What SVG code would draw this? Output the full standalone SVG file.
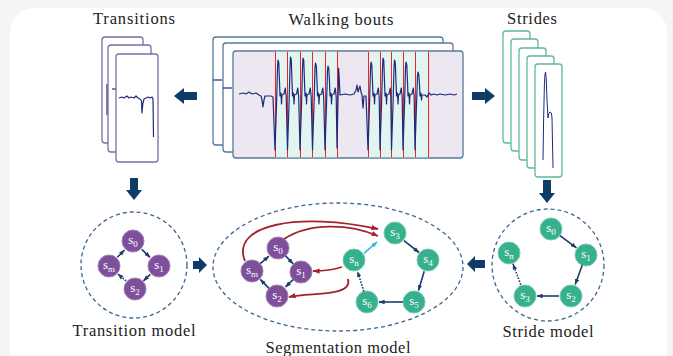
<svg xmlns="http://www.w3.org/2000/svg" width="673" height="356" viewBox="0 0 673 356">
<defs>
<style>
text{font-family:'Liberation Serif','Times New Roman',serif}
.title{font-size:16.5px;fill:#222;text-anchor:middle}
.lbl{font-size:13px;fill:#fff;text-anchor:middle}
.sub{font-size:9px}
.pn{fill:#7e4f9b;stroke:#a27fb9;stroke-width:1}
.gn{fill:#37b08d;stroke:#79cdb0;stroke-width:1}
.dash{fill:none;stroke:#3a6690;stroke-width:1.3;stroke-dasharray:4 3}
.nav{fill:none;stroke:#1b3e6c;stroke-width:1.6;marker-end:url(#ah)}
.dot{stroke-dasharray:1.6 1.4}
.red{fill:none;stroke:#a3222f;stroke-width:1.8;marker-end:url(#ahr)}
.blk{fill:#0f3b67}
.wpan{fill:#fff;stroke:#56799b;stroke-width:1.3}
.tpan{fill:#fff;stroke:#7d6aa9;stroke-width:1.3}
.span{fill:#fff;stroke:#5cb99a;stroke-width:1.3}
.sig{fill:none;stroke:#1e2b7c;stroke-width:1.2;stroke-linejoin:round}
.rl{stroke:#f0252c;stroke-width:1}
</style>
<marker id="ah" viewBox="0 0 8 6" refX="7.5" refY="3" markerWidth="6" markerHeight="5" markerUnits="userSpaceOnUse" orient="auto"><path d="M0,0 L8,3 L0,6 z" fill="#1b3e6c"/></marker>
<marker id="ahr" viewBox="0 0 8 6" refX="7.5" refY="3" markerWidth="7" markerHeight="6" markerUnits="userSpaceOnUse" orient="auto"><path d="M0,0 L8,3 L0,6 z" fill="#a3222f"/></marker>
<marker id="ahb" viewBox="0 0 8 6" refX="7.5" refY="3" markerWidth="6" markerHeight="5" markerUnits="userSpaceOnUse" orient="auto"><path d="M0,0 L8,3 L0,6 z" fill="#2bb5e8"/></marker>
</defs>
<rect x="0" y="0" width="673" height="356" fill="#f5f5f5"/>
<rect x="10" y="8" width="657" height="370" rx="24" fill="#fff"/>

<g id="transitions">
<text class="title" x="134" y="24" textLength="82" lengthAdjust="spacing">Transitions</text>
<rect class="tpan" x="102" y="37" width="41" height="106" rx="3"/>
<path class="sig" d="M107,84 L107,115"/>
<rect class="tpan" x="108" y="45" width="43" height="107" rx="3"/>
<path class="sig" d="M112,89 L116,89"/>
<rect class="tpan" x="116" y="54" width="42" height="108" rx="3"/>
<path class="sig" d="M119,98 L122,97 L124,98 L127,96 L129,98 L131,97 L134,98 L136,96 L138,98 L140,99 L141.5,101 L142,113 L142.8,104 L144,99 L146,98 L148,97 L150,98 L152,97 L153,99 L153.5,137"/>
</g>

<g id="walking-bouts">
<text class="title" x="341" y="25" textLength="105" lengthAdjust="spacing">Walking bouts</text>
<rect class="wpan" x="213" y="37" width="230" height="108" rx="3"/>
<path class="sig" d="M213,80 L222,80"/>
<rect class="wpan" x="223" y="43" width="230" height="109" rx="3"/>
<path class="sig" d="M223,88 L232,88"/>
<rect class="wpan" x="233" y="51" width="230" height="107" rx="3" style="fill:#ece7f1"/>
<rect x="275" y="51.7" width="62" height="105.6" fill="#e2f4ef"/>
<rect x="368" y="51.7" width="60" height="105.6" fill="#e2f4ef"/>
<g>
<line class="rl" x1="275.5" y1="51.7" x2="275.5" y2="157.3"/>
<line class="rl" x1="287.5" y1="51.7" x2="287.5" y2="157.3"/>
<line class="rl" x1="300.5" y1="51.7" x2="300.5" y2="157.3"/>
<line class="rl" x1="312.5" y1="51.7" x2="312.5" y2="157.3"/>
<line class="rl" x1="325.5" y1="51.7" x2="325.5" y2="157.3"/>
<line class="rl" x1="337.5" y1="51.7" x2="337.5" y2="157.3"/>
<line class="rl" x1="368.5" y1="51.7" x2="368.5" y2="157.3"/>
<line class="rl" x1="380.5" y1="51.7" x2="380.5" y2="157.3"/>
<line class="rl" x1="391.5" y1="51.7" x2="391.5" y2="157.3"/>
<line class="rl" x1="403.5" y1="51.7" x2="403.5" y2="157.3"/>
<line class="rl" x1="415.5" y1="51.7" x2="415.5" y2="157.3"/>
<line class="rl" x1="428.5" y1="51.7" x2="428.5" y2="157.3"/>
</g>
<path class="sig" d="M239,94 L243,93 L246,94 L249,92 L252,94 L256,93 L259,95 L261,96 L262,100 L263,107 L264,100 L265,96 L268,96 L271,96 L273,97
L275,150 L276.5,105 L277.5,68 L278,60 L278.8,63 L279.5,82 L280,96 L281,93 L281.5,104 L282,95 L284,94 L285.3,88 L286.2,97
L287.5,150 L289,105 L290,68 L290.5,57 L291.3,60 L292,82 L292.5,96 L293.5,93 L294,104 L294.5,95 L296.5,94 L297.8,88 L298.7,97
L300,150 L301.5,105 L302.5,68 L303,58 L303.8,61 L304.5,82 L305,96 L306,93 L306.5,104 L307,95 L309,94 L310.3,88 L311.2,97
L312.5,150 L314,105 L315,68 L315.5,63 L316.3,66 L317,82 L317.5,96 L318.5,93 L319,104 L319.5,95 L321.5,94 L322.8,88 L323.7,97
L325,150 L326.5,105 L327.5,70 L328,66 L328.8,69 L329.5,82 L330,96 L331,93 L331.5,104 L332,95 L334,94 L335.3,88 L336.2,97
L337,148 L338,100 L338.6,68 L339.3,80 L340,95 L345,94 L350,95 L354,94 L356,90 L357,85 L358,92 L360,86 L361,92 L362,95 L363,108 L364,96 L366,96
L368,150 L369.5,105 L370.5,68 L371,62 L371.8,65 L372.5,82 L373,96 L374,93 L374.5,104 L375,95 L377,94 L378.3,88 L379.2,97
L380,150 L381.5,105 L382.5,68 L383,58 L383.8,61 L384.5,82 L385,96 L386,93 L386.5,104 L387,95 L389,94 L390.2,88 L390.8,97
L391.5,150 L393,105 L394,68 L394.5,60 L395.3,63 L396,82 L396.5,96 L397.5,93 L398,104 L398.5,95 L400,94 L401.3,88 L402.2,97
L403,150 L404.5,105 L405.5,68 L406,62 L406.8,65 L407.5,82 L408,96 L409,93 L409.5,104 L410,95 L412,94 L413.3,88 L414.2,97
L415,150 L416.5,105 L417.5,76 L418,72 L418.8,75 L419.5,85 L420,96 L421,93 L421.5,100 L422,95 L425,95 L427,97 L429,93 L431,95 L434,94 L437,95 L440,94 L445,95 L450,94 L454,95 L457,94"/>
</g>

<g id="strides">
<text class="title" x="532" y="24" textLength="50" lengthAdjust="spacing">Strides</text>
<rect class="span" x="503" y="31" width="27" height="112" rx="3"/>
<path class="sig" d="M512,105 L512,135" style="stroke-width:0.9"/>
<rect class="span" x="511" y="39" width="27" height="112" rx="3"/>
<path class="sig" d="M520,110 L520,142" style="stroke-width:0.9"/>
<rect class="span" x="519" y="48" width="27" height="112" rx="3"/>
<path class="sig" d="M528,112 L528,148" style="stroke-width:0.9"/>
<rect class="span" x="527" y="56" width="27" height="112" rx="3"/>
<path class="sig" d="M536,115 L536,155" style="stroke-width:0.9"/>
<rect class="span" x="535" y="64" width="27" height="113" rx="3"/>
<path class="sig" d="M543,160 L543.6,120 L544.4,85 L545,74 L545.6,72 L546.3,80 L547,100 L548,118 L548.6,114 L550,112 L551.4,113 L552,118 L553,168" style="stroke-width:1"/>
</g>

<g id="block-arrows">
<path class="blk" d="M174,96 L184,88 L184,92 L197,92 L197,100 L184,100 L184,104 z"/>
<path class="blk" d="M495,96 L485,88 L485,92 L472,92 L472,100 L485,100 L485,104 z"/>
<path class="blk" d="M134,200 L126,190 L130,190 L130,178 L138,178 L138,190 L142,190 z"/>
<path class="blk" d="M547,203 L539,193 L543,193 L543,180 L551,180 L551,193 L555,193 z"/>
<path class="blk" d="M207,265 L199,257 L199,261 L193,261 L193,269 L199,269 L199,273 z"/>
<path class="blk" d="M467,264 L475,256 L475,260 L485,260 L485,268 L475,268 L475,272 z"/>
</g>

<g id="transition-model">
<ellipse class="dash" cx="134" cy="265" rx="53" ry="53"/>
<g id="t-s0"><circle class="pn" cx="133" cy="241" r="11"/><text class="lbl" x="133" y="244">s<tspan class="sub" dy="3">0</tspan></text></g>
<g id="t-s1"><circle class="pn" cx="159" cy="266" r="11"/><text class="lbl" x="159" y="269">s<tspan class="sub" dy="3">1</tspan></text></g>
<g id="t-s2"><circle class="pn" cx="135" cy="289" r="11"/><text class="lbl" x="135" y="292">s<tspan class="sub" dy="3">2</tspan></text></g>
<g id="t-sm"><circle class="pn" cx="109" cy="266" r="11"/><text class="lbl" x="109" y="269">s<tspan class="sub" dy="3">m</tspan></text></g>
<text class="title" x="134" y="336" textLength="123" lengthAdjust="spacing">Transition model</text>
</g>

<g id="segmentation-model">
<ellipse class="dash" cx="338" cy="267" rx="125" ry="64"/>
<g id="g-s0"><circle class="pn" cx="278" cy="248" r="11"/><text class="lbl" x="278" y="251">s<tspan class="sub" dy="3">0</tspan></text></g>
<g id="g-s1"><circle class="pn" cx="301" cy="272" r="11"/><text class="lbl" x="301" y="275">s<tspan class="sub" dy="3">1</tspan></text></g>
<g id="g-s2"><circle class="pn" cx="277" cy="296" r="11"/><text class="lbl" x="277" y="299">s<tspan class="sub" dy="3">2</tspan></text></g>
<g id="g-sm"><circle class="pn" cx="252" cy="271" r="11"/><text class="lbl" x="252" y="274">s<tspan class="sub" dy="3">m</tspan></text></g>
<g id="g-sn"><circle class="gn" cx="354" cy="260" r="11"/><text class="lbl" x="354" y="263">s<tspan class="sub" dy="3">n</tspan></text></g>
<g id="g-s3"><circle class="gn" cx="395" cy="233" r="11"/><text class="lbl" x="395" y="236">s<tspan class="sub" dy="3">3</tspan></text></g>
<g id="g-s4"><circle class="gn" cx="428" cy="260" r="11"/><text class="lbl" x="428" y="263">s<tspan class="sub" dy="3">4</tspan></text></g>
<g id="g-s5"><circle class="gn" cx="414" cy="302" r="11"/><text class="lbl" x="414" y="305">s<tspan class="sub" dy="3">5</tspan></text></g>
<g id="g-s6"><circle class="gn" cx="367" cy="302" r="11"/><text class="lbl" x="367" y="305">s<tspan class="sub" dy="3">6</tspan></text></g>
<text class="title" x="338" y="353" textLength="145" lengthAdjust="spacing">Segmentation model</text>
</g>

<g id="stride-model">
<ellipse class="dash" cx="548" cy="265" rx="56" ry="56"/>
<g id="r-s0"><circle class="gn" cx="551" cy="229" r="11"/><text class="lbl" x="551" y="232">s<tspan class="sub" dy="3">0</tspan></text></g>
<g id="r-s1"><circle class="gn" cx="586" cy="255" r="11"/><text class="lbl" x="586" y="258">s<tspan class="sub" dy="3">1</tspan></text></g>
<g id="r-s2"><circle class="gn" cx="571" cy="296" r="11"/><text class="lbl" x="571" y="299">s<tspan class="sub" dy="3">2</tspan></text></g>
<g id="r-s3"><circle class="gn" cx="525" cy="296" r="11"/><text class="lbl" x="525" y="299">s<tspan class="sub" dy="3">3</tspan></text></g>
<g id="r-sn"><circle class="gn" cx="509" cy="253" r="11"/><text class="lbl" x="509" y="256">s<tspan class="sub" dy="3">n</tspan></text></g>
<text class="title" x="548" y="337" textLength="91" lengthAdjust="spacing">Stride model</text>
</g>

<g id="connectors">
<path class="nav" d="M117.3,257.3 L124.5,250"/>
<path class="nav" d="M141.7,249.3 L150,257.3"/>
<path class="nav" d="M150.3,274.3 L143.5,280.8"/>
<path class="nav dot" d="M126,281 L118,274"/>

<path class="nav" d="M260.3,263.7 L268.8,256.2"/>
<path class="nav" d="M285.6,255.9 L293.2,263.8"/>
<path class="nav" d="M293.1,279.6 L285.5,286.9"/>
<path class="nav" d="M269,288.4 L260.3,279.4"/>

<path class="nav" d="M364,253.4 L377,242" style="stroke:#2bb5e8;marker-end:url(#ahb)"/>
<path class="nav" d="M404,240.6 L419,252.5"/>
<path class="nav" d="M424.2,271.3 L418.5,290.5"/>
<path class="nav" d="M403,302 L379,302"/>
<path class="nav dot" d="M363.8,291.5 L357.6,271.5"/>

<path class="red" d="M245,261 C230,224 300,212 378,229"/>
<path class="red" d="M284,239 C310,222 350,224 378,236"/>
<path class="red" d="M342,267 Q330,271 313,271"/>
<path class="red" d="M348,279 C353,297 312,292 289,297"/>

<path class="nav" d="M560,235.6 L576.4,247.8"/>
<path class="nav" d="M582.2,265.3 L575.2,284.5"/>
<path class="nav" d="M559,296 L537,296"/>
<path class="nav dot" d="M520.8,284.7 L513,264"/>
</g>
</svg>
